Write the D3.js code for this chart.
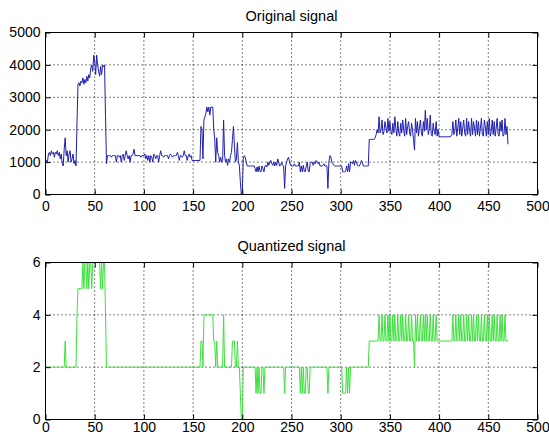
<!DOCTYPE html>
<html>
<head>
<meta charset="utf-8">
<script src="https://cdn.jsdelivr.net/npm/d3@7"></script>
<style>
  body { margin: 0; background: #fff; }
  text { font-family: "Liberation Sans", Arial, sans-serif; fill: #000; }
</style>
</head>
<body>
<div class="chart"></div>
<script>
var svgWidth = 549;
var svgHeight = 441;

// sample values, one per sample index (0..470)
var originalSignal = [
  1000,1050,1000,1250,1300,1200,1350,1250,1300,1150,
  1300,1250,1350,1200,1300,1100,1250,950,880,1400,
  1750,1200,1350,1000,1250,1350,1000,1100,1250,950,
  1050,880,2200,3400,3450,3350,3500,3450,3600,3400,
  3550,3450,3650,3500,3700,3600,3900,4000,3800,4300,
  4100,3700,4300,4000,3800,3650,3950,3700,4000,3950,
  4000,2400,950,1200,1200,1200,1200,1150,1200,1200,
  1200,1200,1000,1200,1200,1150,1200,1000,1200,1250,
  1050,1200,1350,1200,1100,1200,1000,1200,1200,1250,
  1400,1200,1200,1200,1200,1200,1200,1150,1200,1200,
  1200,1250,1100,1200,1050,1200,1000,1200,1150,1000,
  1250,1200,1100,1200,1200,1000,1200,1350,1200,1200,
  1150,1200,1200,1200,1200,1100,1200,1250,1200,1150,
  1200,1200,1200,1200,1300,1200,1050,1200,1200,1150,
  1200,1350,1200,1200,1050,1200,1250,1150,1200,1050,
  1050,1050,1050,1050,1050,1050,1050,1050,2100,2000,
  1100,2300,2400,2500,2700,2550,2700,2450,2700,2700,
  2700,2000,1700,1000,1750,1300,1200,1000,1150,1000,
  1050,2300,1200,1000,1100,900,1100,1000,1200,1300,
  1700,2100,1500,1000,1100,1600,1000,900,400,0,
  100,1100,1200,1150,1000,880,880,880,880,880,
  880,880,880,800,700,850,700,880,720,700,
  880,800,700,880,900,850,1000,900,1000,1050,
  950,900,1000,880,1000,900,1100,1000,880,900,
  1000,900,880,190,880,1000,1100,1150,1000,900,
  880,880,880,950,880,880,880,880,1000,700,
  880,700,900,720,700,880,1000,720,700,950,
  1000,1000,900,1000,950,1050,1000,950,1000,880,
  880,880,900,950,880,880,880,190,1000,1200,
  1150,1000,950,900,880,880,880,880,880,880,
  880,880,700,700,700,720,880,700,950,700,
  1000,1000,950,1050,900,1050,1000,900,880,880,
  950,1050,1000,880,880,880,880,880,880,1700,
  1700,1700,1700,1700,1700,1750,1850,2000,1900,2400,
  1900,2000,2300,1850,1950,2250,2050,1900,2350,1950,
  2250,1950,1850,2200,1900,2400,2050,1800,2250,1900,
  1800,2200,1900,2300,2000,1800,2350,1850,2100,2250,
  1900,1800,2200,2000,1700,1370,2350,1900,2250,1800,
  2050,2300,1900,1800,2250,1950,2600,2000,2350,1850,
  2000,2450,1850,1800,2200,1950,1850,2250,1800,2000,
  1800,1780,1780,1780,1780,1780,1780,1780,1780,1780,
  1780,1780,1800,1850,2250,1850,1950,2300,1800,2050,
  2350,1850,2250,1800,2050,2300,1900,1800,2350,1850,
  2250,1950,1800,2350,1850,2250,2050,1800,2300,1850,
  2250,1800,2050,2350,1850,1800,2300,2100,1800,2250,
  1850,2350,1800,1950,2300,1850,2250,1800,2050,2350,
  1850,1800,2250,1950,2300,1800,1850,2350,1850,2100,
  1550
];

var quantizedSignal = [
  2,2,2,2,2,2,2,2,2,2,
  2,2,2,2,2,2,2,2,2,2,
  3,2,2,2,2,2,2,2,2,2,
  2,2,4,5,5,5,5,5,6,5,
  6,6,5,6,5,6,6,5,6,6,
  6,6,6,6,6,6,5,6,5,6,
  6,4,2,2,2,2,2,2,2,2,
  2,2,2,2,2,2,2,2,2,2,
  2,2,2,2,2,2,2,2,2,2,
  2,2,2,2,2,2,2,2,2,2,
  2,2,2,2,2,2,2,2,2,2,
  2,2,2,2,2,2,2,2,2,2,
  2,2,2,2,2,2,2,2,2,2,
  2,2,2,2,2,2,2,2,2,2,
  2,2,2,2,2,2,2,2,2,2,
  2,2,2,2,2,2,2,2,3,3,
  2,4,4,4,4,4,4,4,4,4,
  4,3,3,2,3,2,2,2,2,2,
  2,4,2,2,2,2,2,2,2,2,
  3,3,3,2,2,3,2,2,1,0,
  0,2,2,2,2,2,2,2,2,2,
  2,2,2,2,1,2,1,2,1,1,
  2,2,1,2,2,2,2,2,2,2,
  2,2,2,2,2,2,2,2,2,2,
  2,2,2,1,2,2,2,2,2,2,
  2,2,2,2,2,2,2,2,2,1,
  2,1,2,1,1,2,2,1,1,2,
  2,2,2,2,2,2,2,2,2,2,
  2,2,2,2,2,2,2,1,2,2,
  2,2,2,2,2,2,2,2,2,2,
  2,2,1,1,1,1,2,1,2,1,
  2,2,2,2,2,2,2,2,2,2,
  2,2,2,2,2,2,2,2,2,3,
  3,3,3,3,3,3,3,3,3,4,
  3,3,4,3,3,4,3,3,4,3,
  4,3,3,4,3,4,3,3,4,3,
  3,4,3,4,3,3,4,3,3,4,
  3,3,4,3,3,2,4,3,4,3,
  3,4,3,3,4,3,4,3,4,3,
  3,4,3,3,4,3,3,4,3,3,
  3,3,3,3,3,3,3,3,3,3,
  3,3,3,3,4,3,3,4,3,3,
  4,3,4,3,3,4,3,3,4,3,
  4,3,3,4,3,4,3,3,4,3,
  4,3,3,4,3,3,4,3,3,4,
  3,4,3,3,4,3,4,3,3,4,
  3,3,4,3,4,3,3,4,3,3,
  3
];

var xTicks = [0, 50, 100, 150, 200, 250, 300, 350, 400, 450, 500];
var originalTicks = [0, 1000, 2000, 3000, 4000, 5000];
var quantizedTicks = [0, 2, 4, 6];

var svg = d3
  .select(".chart")
  .append("svg")
  .attr("width", svgWidth)
  .attr("height", svgHeight);

function drawPanel(opts) {
  var x = d3.scaleLinear().domain([0, 500]).range([opts.left, opts.right]);
  var y = d3.scaleLinear().domain(opts.yDomain).range([opts.bottom, opts.top]);
  var g = svg.append("g");

  // dotted grid
  g.selectAll(null)
    .data(xTicks.slice(1, -1))
    .enter()
    .append("line")
    .attr("x1", d => x(d)).attr("x2", d => x(d))
    .attr("y1", opts.top).attr("y2", opts.bottom)
    .attr("stroke", "#000")
    .attr("stroke-width", 1)
    .attr("stroke-dasharray", "1,3");

  g.selectAll(null)
    .data(opts.yTicks.slice(1, -1))
    .enter()
    .append("line")
    .attr("y1", d => y(d)).attr("y2", d => y(d))
    .attr("x1", opts.left).attr("x2", opts.right)
    .attr("stroke", "#000")
    .attr("stroke-width", 1)
    .attr("stroke-dasharray", "1,3");

  var clipId = "clip-" + opts.name;
  svg.append("clipPath")
    .attr("id", clipId)
    .append("rect")
    .attr("x", opts.left).attr("y", opts.top - 1)
    .attr("width", opts.right - opts.left)
    .attr("height", opts.bottom - opts.top + 2);

  var line = d3.line()
    .x((d, i) => x(i))
    .y(d => y(d));

  g.append("path")
    .datum(opts.values)
    .attr("clip-path", "url(#" + clipId + ")")
    .attr("fill", "none")
    .attr("stroke", opts.color)
    .attr("stroke-width", 1)
    .attr("d", line);

  // axes, ticks pointing inward on all four sides
  var fmt = d3.format("d");
  var bottomAxis = d3.axisBottom(x).tickValues(xTicks).tickSize(-5).tickPadding(opts.xPad).tickFormat(fmt);
  var topAxis = d3.axisTop(x).tickValues(xTicks).tickSize(-5).tickFormat("");
  var leftAxis = d3.axisLeft(y).tickValues(opts.yTicks).tickSize(-5).tickPadding(5).tickFormat(fmt);
  var rightAxis = d3.axisRight(y).tickValues(opts.yTicks).tickSize(-5).tickFormat("");

  [
    [bottomAxis, `translate(0, ${opts.bottom})`],
    [topAxis, `translate(0, ${opts.top})`],
    [leftAxis, `translate(${opts.left}, 0)`],
    [rightAxis, `translate(${opts.right}, 0)`]
  ].forEach(function(a) {
    var ax = g.append("g")
      .attr("transform", a[1])
      .call(a[0]);
    ax.select(".domain").remove();
    ax.selectAll("line").attr("stroke", "#000");
    ax.selectAll("text")
      .attr("font-family", "Liberation Sans, Arial, sans-serif")
      .attr("font-size", 14)
      .attr("fill", "#000");
  });

  g.append("rect")
    .attr("x", opts.left).attr("y", opts.top)
    .attr("width", opts.right - opts.left)
    .attr("height", opts.bottom - opts.top)
    .attr("fill", "none")
    .attr("stroke", "#000")
    .attr("stroke-width", 1);

  g.append("text")
    .attr("x", (opts.left + opts.right) / 2)
    .attr("y", opts.top - 11.5)
    .attr("text-anchor", "middle")
    .attr("font-size", 14.5)
    .text(opts.title);
}

drawPanel({
  name: "orig",
  title: "Original signal",
  values: originalSignal,
  yDomain: [0, 5000],
  yTicks: originalTicks,
  color: "#1f1fb0",
  left: 45.5, right: 537.5, top: 32.5, bottom: 194.5,
  xPad: 7
});

drawPanel({
  name: "quant",
  title: "Quantized signal",
  values: quantizedSignal,
  yDomain: [0, 6],
  yTicks: quantizedTicks,
  color: "#3ee03e",
  left: 45.5, right: 537.5, top: 262.5, bottom: 419.5,
  xPad: 3
});
</script>
</body>
</html>
